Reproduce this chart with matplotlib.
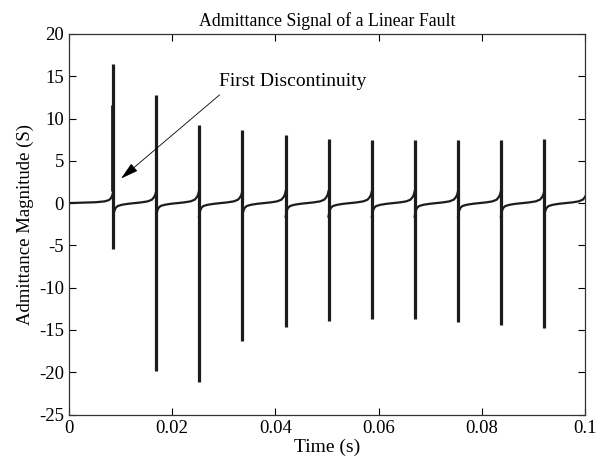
import numpy as np
import matplotlib
matplotlib.use('Agg')
import matplotlib.pyplot as plt

# spike times (s) and spike extremes (S)
spike_t = [0.0086, 0.0169, 0.0252, 0.0336, 0.0420, 0.0503, 0.0587, 0.0670, 0.0754, 0.0837, 0.0921]
peak = [16.5, 12.8, 9.2, 8.6, 8.0, 7.6, 7.5, 7.5, 7.5, 7.5, 7.6]
trough = [-5.4, -19.8, -21.1, -16.3, -14.6, -13.9, -13.7, -13.7, -14.1, -14.4, -14.8]
first_prepeak = 11.6

# level between spikes (fraction of the gap -> value)
seg_frac = [0.0, 0.02, 0.05, 0.1, 0.2, 0.35, 0.5, 0.65, 0.8, 0.9, 0.95, 0.98, 1.0]
seg_val = [-1.6, -1.0, -0.6, -0.35, -0.2, -0.08, 0.0, 0.08, 0.2, 0.4, 0.7, 1.0, 1.4]
# level before the first spike
lead_frac = [0.0, 0.3, 0.6, 0.8, 0.9, 0.95, 0.98, 1.0]
lead_val = [0.0, 0.05, 0.1, 0.2, 0.35, 0.6, 0.95, 1.4]

#构造曲线（尖峰处断开，尖峰用竖线画）
t = [spike_t[0] * f for f in lead_frac]
y = list(lead_val)
period = spike_t[1] - spike_t[0]
ends = spike_t[1:] + [spike_t[-1] + period]
for k in range(len(spike_t)):
    t.append(np.nan)
    y.append(np.nan)
    gap = ends[k] - spike_t[k]
    t += [spike_t[k] + gap * f for f in seg_frac]
    y += seg_val

plt.rcParams['font.family'] = ['Liberation Serif', 'DejaVu Serif']
plt.rcParams['axes.unicode_minus'] = False
fig = plt.figure(figsize=(6.1, 4.63), dpi=100)
ax = fig.add_axes([0.113, 0.1047, 0.846, 0.822])
ax.plot(t, y, color='#1c1c1c', lw=1.6)
ax.vlines(spike_t, trough, peak, color='#1c1c1c', lw=2.3, capstyle='butt')
ax.vlines(spike_t[0] - 0.0003, lead_val[-1], first_prepeak, color='#1c1c1c', lw=2.0, capstyle='butt')

ax.set_xlim(0, 0.1)
ax.set_ylim(-25, 20)
ax.set_xticks([0, 0.02, 0.04, 0.06, 0.08, 0.1])
ax.set_xticklabels(['0', '0.02', '0.04', '0.06', '0.08', '0.1'])
ax.set_yticks(range(-25, 21, 5))
ax.tick_params(direction='in', top=True, right=True, length=5, labelsize=13.5, width=0.8)
ax.tick_params(axis='x', pad=4)
for s in ax.spines.values():
    s.set_linewidth(0.9)
    s.set_color('#333333')
ax.set_xlabel('Time (s)', fontsize=14, labelpad=1)
ax.set_ylabel('Admittance Magnitude (S)', fontsize=13.5, labelpad=4)
ax.set_title('Admittance Signal of a Linear Fault', fontsize=12.8, pad=6)

ax.text(0.0291, 14.4, 'First Discontinuity', fontsize=14, va='center', ha='left')
ax.annotate('', xy=(0.0101, 2.9), xytext=(0.0292, 12.8),
            arrowprops=dict(arrowstyle='-|>,head_length=1.1,head_width=0.3', color='black',
                            lw=0.6, mutation_scale=10, shrinkA=0, shrinkB=0))

fig.savefig('out.png', dpi=100)
